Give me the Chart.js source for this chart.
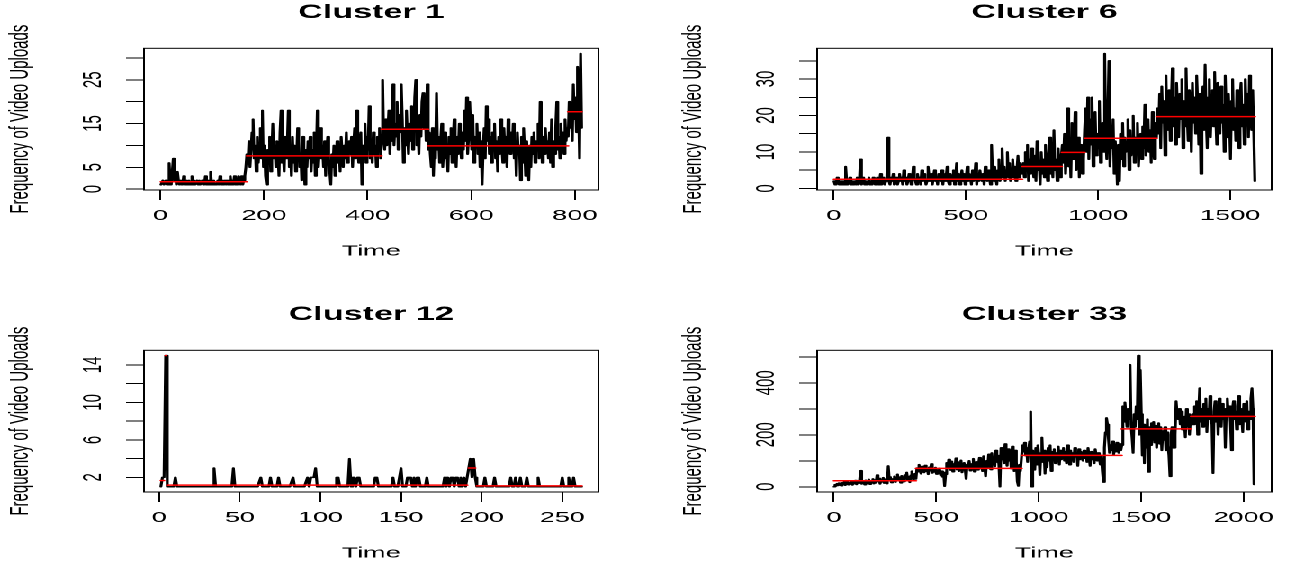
<!DOCTYPE html>
<html>
<head>
<meta charset="utf-8">
<script src="https://cdn.jsdelivr.net/npm/chart.js@4.4.1/dist/chart.umd.min.js"></script>
<style>
  html, body { margin:0; padding:0; background:#fff; overflow:hidden; }
  #wrap { position:absolute; left:0; top:0; width:717.3px; height:569px; transform:scaleX(1.8); transform-origin:0 0; }
  #wrap canvas { position:absolute; }
</style>
</head>
<body>
<div id="wrap">
  <canvas id="c1"  style="left:0px;top:0px;width:343px;height:267px" width="343" height="267"></canvas>
  <canvas id="c6"  style="left:374.3px;top:0px;width:343px;height:267px" width="343" height="267"></canvas>
  <canvas id="c12" style="left:0px;top:302px;width:343px;height:267px" width="343" height="267"></canvas>
  <canvas id="c33" style="left:374.3px;top:302px;width:343px;height:267px" width="343" height="267"></canvas>
</div>
<script>
// ---------------- DATA ----------------
const titles = ['Cluster 1', 'Cluster 6', 'Cluster 12', 'Cluster 33'];
const xAxisTitle = 'Time';
const yAxisTitle = 'Frequency of Video Uploads';

// Cluster 1 (813 observations, read every 2nd time step)
const c1N = 813, c1Start = 1, c1Step = 2;
const c1Values = [
  // t 1..165
  1,1,2,1,1,2,1,1,6,2, 1,1,7,2,3,1,4,2,1,2,
  1,1,3,1,2,1,1,2,1,1, 3,1,2,1,1,2,1,2,1,1,
  2,1,1,3,1,2,1,1,4,1, 1,2,1,1,1,2,1,3,1,2,
  1,1,2,1,2,1,1,3,1,2, 1,3,1,2,1,3,2,1,3,1,
  2,3,5,
  // t 167..427
  8,6,11,5,9,13,16,7,10,4, 12,6,9,14,7,18,5,10,3,1,
  9,6,12,4,8,15,7,10,5,11, 8,3,13,18,6,9,4,12,7,10,
  18,5,9,3,12,6,10,4,7,14, 11,5,8,2,12,6,1,9,5,11,
  7,12,4,9,6,13,3,8,18,5, 9,14,7,10,5,11,3,8,12,6,
  4,1,8,5,10,3,7,11,6,9, 4,12,8,5,10,7,13,6,9,11,
  8,12,5,10,14,7,18,9,6,11, 13,1,10,8,15,6,12,9,19,7,
  11,6,13,8,10,5,12,9,14,7,11,
  // t 429..517
  25,12,9,16,10,13,18,8,14,11, 24,10,15,12,20,9,17,13,24,16,
  6,14,10,18,12,8,15,11,19,9, 13,21,25,10,14,8,17,12,20,22,
  14,19,11,24,9,
  // t 519..787
  13,8,5,14,3,10,7,22,9,12, 6,11,15,5,9,13,7,10,4,12,
  8,14,6,11,16,9,5,12,8,15, 10,7,13,9,18,11,21,8,12,20,
  14,9,17,6,12,10,15,8,13,5, 11,1,9,14,7,19,11,16,8,12,
  6,13,9,15,7,11,4,12,8,16, 10,6,14,9,12,5,16,11,8,13,
  9,15,7,11,3,13,8,10,2,12, 6,14,9,3,11,7,2,10,5,12,
  8,13,6,11,9,15,7,20,13,6, 12,8,14,9,11,7,13,6,16,5,
  11,8,14,20,9,12,7,15,10,13, 8,16,11,14,12,
  // t 789..813
  20,14,18,11,24,16,21,13,28,19,7,31,14
];
const c1SegStart = [1, 167, 427, 517, 787];
const c1SegEnd   = [167, 427, 517, 787, 813];
const c1SegLevel = [1.7, 7.6, 13.7, 9.9, 17.7];
const c1XTicks = [0, 200, 400, 600, 800];
const c1YTicks = [0, 5, 10, 15, 20, 25, 30];
const c1YLabels = ['0', '5', '', '15', '', '25', ''];

// Cluster 6 (1593 observations, read every 4th time step)
const c6N = 1593, c6Start = 1, c6Step = 4;
const c6Values = [
  // t 1..713
  2,1,1,3,2,1,2,1,2,1, 1,6,2,1,2,3,1,2,1,1,
  2,1,3,1,2,8,1,2,3,1, 2,1,2,3,1,2,1,3,2,1,
  2,3,1,2,4,1,2,3,1,2, 3,14,2,1,3,2,4,1,2,3,
  1,2,4,2,3,1,5,2,3,1, 2,4,3,1,2,6,3,2,1,4,
  2,3,1,5,2,4,3,1,2,6, 3,2,4,1,3,5,2,3,1,4,
  3,2,5,1,4,2,3,6,2,1, 4,3,2,5,1,3,7,2,4,1,
  3,5,2,4,1,3,6,2,4,3, 1,5,2,3,7,1,4,2,5,3,
  2,4,1,6,3,2,5,3,1,12, 4,2,6,3,1,5,8,2,4,11,
  3,6,2,5,10,3,7,2,4,8, 3,6,2,5,9,3,7,4,5,
  // t 717..861
  7,3,10,5,12,2,8,4,11,6, 3,9,2,13,5,7,1,10,4,8,
  3,12,6,2,9,14,4,7,3,16, 5,8,2,11,6,3,9,
  // t 865..945
  12,7,15,4,10,22,6,13,3,18, 8,11,21,5,9,14,3,7,12,4, 8,
  // t 949..1221
  16,22,10,25,8,19,12,25,6,17, 21,9,15,11,24,7,13,18,10,37,
  14,8,20,35,6,16,11,19,4,13, 9,1,12,2,15,8,18,6,14,10,
  11,19,5,16,9,13,20,7,14,10, 18,6,12,15,8,17,11,23,9,14,
  19,10,16,7,21,12,8,18,14,
  // t 1225..1593
  22,15,26,11,28,18,24,9,31,16, 20,27,13,23,33,17,25,12,29,21,
  14,26,19,30,11,24,17,33,20,13, 27,22,10,29,18,25,15,31,23,12,
  26,4,21,28,16,34,19,11,25,30, 14,22,27,17,32,20,12,29,24,15,
  28,18,23,10,31,21,14,26,19,8, 24,30,16,22,13,27,20,11,25,29,
  17,23,12,30,19,26,14,31,21,16, 27,15,2
];
const c6SegStart = [1, 713, 863, 949, 1222];
const c6SegEnd   = [713, 863, 949, 1222, 1593];
const c6SegLevel = [2.5, 6.0, 9.9, 13.75, 19.7];
const c6XTicks = [0, 500, 1000, 1500];
const c6YTicks = [0, 5, 10, 15, 20, 25, 30, 35];
const c6YLabels = ['0', '', '10', '', '20', '', '30', ''];

// Cluster 12 (262 observations, every time step)
const c12N = 262, c12Start = 1, c12Step = 1;
const c12Values = [
  1,2,2,15,1,1,1,1,1,2, 1,1,1,1,1,1,1,1,1,1,
  1,1,1,1,1,1,1,1,1,1, 1,1,1,3,1,1,1,1,1,1,
  1,1,1,1,1,3,1,1,1,1, 1,1,1,1,1,1,1,1,1,1,
  1,1,2,1,1,1,1,1,2,1, 1,1,1,2,1,1,1,1,1,1,
  1,1,2,1,1,1,1,1,1,1, 1,2,1,2,2,2,3,1,1,1,
  1,1,1,1,1,1,1,1,1,2, 2,1,1,1,1,1,1,4,1,2,
  2,1,2,2,1,1,1,1,1,1, 1,1,1,2,2,1,1,1,1,1,
  1,1,1,1,2,1,1,1,1,3, 1,1,1,2,2,2,1,2,1,2,
  2,1,1,1,1,2,1,1,1,1, 1,1,1,1,1,1,2,1,2,1,
  2,2,1,2,2,1,2,1,2,1, 2,3,4,2,4,2,1,1,1,1,
  1,2,1,1,1,1,1,2,1,1, 1,1,1,1,1,1,1,2,1,1,
  2,1,1,2,1,1,1,2,1,1, 1,1,1,1,2,1,1,1,1,1,
  1,1,1,1,1,1,1,1,1,2, 1,1,1,2,1,1,2,1,1,1, 1,1
];
const c12SegStart = [1, 4, 5, 192, 197];
const c12SegEnd   = [3, 4, 191, 196, 262];
const c12SegLevel = [1.67, 15, 1.17, 3, 1.1];
const c12XTicks = [0, 50, 100, 150, 200, 250];
const c12YTicks = [2, 4, 6, 8, 10, 12, 14];
const c12YLabels = ['2', '', '6', '', '10', '', '14'];

// Cluster 33 (2055 observations, read every 5th time step)
const c33N = 2055, c33Start = 1, c33Step = 5;
const c33Values = [
  // t 1..401
  0,8,3,12,5,14,7,4,15,9, 18,6,13,20,8,16,11,22,7,17,
  12,24,9,19,14,26,62,11,21,16, 8,25,18,13,28,10,23,17,30,12,
  26,15,45,20,32,11,27,19,35,14, 29,22,12,80,25,38,16,30,21,40,
  18,33,48,24,37,15,42,28,20,45, 32,55,26,39,17,44,60,29,36,50,
  30,
  // t 406..916
  72,58,85,64,50,78,66,55,82,60, 70,48,75,62,88,53,68,57,74,49,
  65,52,71,45,60,38,55,2,48,92, 70,105,82,64,98,58,88,72,110,66,
  95,60,84,102,55,78,92,68,30,86, 74,100,62,88,70,108,58,80,96,65,
  85,112,70,95,60,118,82,40,100,75, 125,88,66,130,92,110,78,140,95,120,
  85,0,150,105,125,90,165,115,80,145, 100,130,70,155,110,60,140,95,20,3,
  85,60,110,
  // t 921..1406
  160,135,170,120,150,95,145,175,290,0, 140,110,65,150,85,160,120,45,130,190,
  95,140,50,125,75,150,100,160,60,135, 110,145,90,130,115,155,85,140,105,125,
  150,100,135,90,160,120,85,140,110,130, 95,150,115,125,80,145,105,135,120,100,
  140,110,130,95,150,115,80,135,105,125, 90,145,120,100,130,110,85,120,60,18,
  150,210,265,240,180,130,160,140,175,125, 150,135,170,145,130,165,140,160,
  // t 1411..1746
  310,250,325,280,230,300,260,470,240,190, 130,280,230,310,260,505,200,450,280,120,
  240,90,220,150,260,57,230,160,245,180, 250,170,235,150,225,245,165,230,140,215,
  180,230,140,210,160,120,40,200,230,150, 150,200,330,280,260,300,240,290,220,270,
  250,190,300,230,280,200,260,240,
  // t 1751..2051
  280,240,310,260,330,200,290,380,250,300, 230,320,270,340,210,300,260,350,280,240,
  52,290,330,250,310,200,340,280,230,320, 260,300,150,290,340,270,310,250,140,300,
  330,260,290,220,310,350,240,300,270,210, 320,280,250,330,220,290,260,340,380,300, 9
];
const c33SegStart = [1, 401, 917, 1405, 1744];
const c33SegEnd   = [401, 917, 1405, 1744, 2055];
const c33SegLevel = [23, 70.7, 120.6, 223, 270.7];
const c33XTicks = [0, 500, 1000, 1500, 2000];
const c33YTicks = [0, 100, 200, 300, 400, 500];
const c33YLabels = ['0', '', '200', '', '400', ''];

// ---------------- DRAWING ----------------
const FONT = '"Liberation Sans", Arial, Helvetica, sans-serif';
Chart.defaults.font.family = FONT;
Chart.defaults.color = '#000';

function rLimits(lo, hi) { const r = hi - lo; return [lo - 0.04 * r, hi + 0.04 * r]; }

const boxPlugin = {
  id: 'rBox',
  afterDatasetsDraw(chart) {
    const a = chart.chartArea, ctx = chart.ctx;
    ctx.save();
    ctx.strokeStyle = '#000';
    ctx.lineWidth = 1;
    ctx.strokeRect(a.left, a.top, a.right - a.left, a.bottom - a.top);
    ctx.restore();
  }
};

const yLabelPlugin = {
  id: 'rYLabels',
  afterDraw(chart, args, opts) {
    const s = chart.scales.y, ctx = chart.ctx;
    ctx.save();
    ctx.fillStyle = '#000';
    ctx.font = '15px ' + FONT;
    ctx.textAlign = 'center';
    ctx.textBaseline = 'middle';
    opts.values.forEach((v, i) => {
      const lab = opts.labels[i];
      if (!lab) return;
      const y = s.getPixelForValue(v);
      ctx.save();
      ctx.translate(51.7, y);
      ctx.rotate(-Math.PI / 2);
      ctx.fillText(lab, 0, 0);
      ctx.restore();
    });
    ctx.restore();
  }
};

function makePanel(id, title, n, start, step, vals, segS, segE, segL, xTicks, yTicks, yLabels) {
  const pts = vals.map((v, i) => ({ x: start + i * step, y: v }));
  const xl = rLimits(1, n);
  const yl = rLimits(Math.min(...vals), Math.max(...vals));
  const datasets = [{
    data: pts, borderColor: '#000', borderWidth: 1.6, pointRadius: 0, tension: 0,
    borderJoinStyle: 'round', borderCapStyle: 'round', order: 2
  }];
  segS.forEach((s, i) => {
    datasets.push({
      data: [{ x: s, y: segL[i] }, { x: segE[i], y: segL[i] }],
      borderColor: '#ff0000', borderWidth: 1.5, pointRadius: 0,
      borderCapStyle: 'round', order: 1
    });
  });
  const gridOpts = { drawOnChartArea: false, drawTicks: true, tickLength: 10, color: '#000', lineWidth: 1 };
  new Chart(document.getElementById(id), {
    type: 'line',
    data: { datasets },
    options: {
      responsive: false, animation: false, devicePixelRatio: 2,
      layout: { padding: { left: 0, right: 10.5, top: 0, bottom: 0 } },
      plugins: {
        legend: { display: false }, tooltip: { enabled: false },
        title: { display: true, text: title, fullSize: false, color: '#000',
                 font: { family: FONT, size: 19, weight: 'bold', lineHeight: 1.2 },
                 padding: { top: 1.6, bottom: 23.9 } },
        rYLabels: { values: yTicks, labels: yLabels }
      },
      scales: {
        x: {
          type: 'linear', min: xl[0], max: xl[1],
          afterBuildTicks: sc => { sc.ticks = xTicks.map(v => ({ value: v })); },
          afterFit: sc => { sc.height = 77; },
          ticks: { autoSkip: false, minRotation: 0, maxRotation: 0, padding: 7, color: '#000',
                   font: { family: FONT, size: 15, lineHeight: 1.2 }, callback: v => String(v) },
          grid: gridOpts, border: { color: '#000', width: 1 },
          title: { display: true, text: xAxisTitle, color: '#000',
                   font: { family: FONT, size: 15, lineHeight: 1.2 }, padding: { top: 0, bottom: 6.5 } }
        },
        y: {
          type: 'linear', min: yl[0], max: yl[1],
          afterBuildTicks: sc => { sc.ticks = yTicks.map(v => ({ value: v })); },
          afterFit: sc => { sc.width = 80; },
          ticks: { display: false },
          grid: gridOpts, border: { color: '#000', width: 1 },
          title: { display: true, text: yAxisTitle, color: '#000',
                   font: { family: FONT, size: 15, lineHeight: 1.2 }, padding: { top: 2.6, bottom: 0 } }
        }
      }
    },
    plugins: [boxPlugin, yLabelPlugin]
  });
}

makePanel('c1', titles[0], c1N, c1Start, c1Step, c1Values, c1SegStart, c1SegEnd, c1SegLevel, c1XTicks, c1YTicks, c1YLabels);
makePanel('c6', titles[1], c6N, c6Start, c6Step, c6Values, c6SegStart, c6SegEnd, c6SegLevel, c6XTicks, c6YTicks, c6YLabels);
makePanel('c12', titles[2], c12N, c12Start, c12Step, c12Values, c12SegStart, c12SegEnd, c12SegLevel, c12XTicks, c12YTicks, c12YLabels);
makePanel('c33', titles[3], c33N, c33Start, c33Step, c33Values, c33SegStart, c33SegEnd, c33SegLevel, c33XTicks, c33YTicks, c33YLabels);
</script>
</body>
</html>
